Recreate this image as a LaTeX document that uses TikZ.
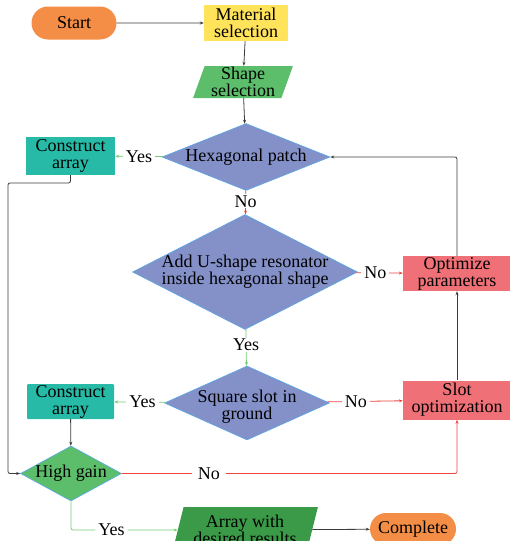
\documentclass[tikz,border=0pt]{standalone}
\usepackage{fontspec}
\setmainfont{Liberation Serif}
\usetikzlibrary{shapes.geometric,shapes.misc,arrows.meta}

\definecolor{termorange}{HTML}{F48D45}
\definecolor{matyellow}{HTML}{FFE35A}
\definecolor{iogreen}{HTML}{5CBE6B}
\definecolor{iodark}{HTML}{3A9A48}
\definecolor{decblue}{HTML}{8490C8}
\definecolor{decedge}{HTML}{5AA9E6}
\definecolor{arrteal}{HTML}{27BBA7}
\definecolor{optred}{HTML}{EF7077}
\definecolor{linegray}{HTML}{3C3C3C}
\definecolor{yesgreen}{HTML}{74CC74}
\definecolor{nored}{HTML}{F0443C}

\tikzset{
  every node/.style={font=\fontsize{18}{17}\selectfont, align=center, inner sep=0pt},
  term/.style={rounded rectangle, fill=termorange, minimum width=85pt, minimum height=33pt},
  proc/.style={rectangle, minimum width=88pt, minimum height=36pt},
  io/.style={trapezium, trapezium left angle=72, trapezium right angle=108,
    trapezium stretches=true, fill=iogreen},
  dec/.style={diamond, fill=decblue, draw=decedge, line width=0.6pt},
  tag/.style={fill=white, inner xsep=3pt, inner ysep=1pt},
  line/.style={draw=linegray, line width=0.8pt, -{Stealth[length=4pt,width=3pt]}},
  yesline/.style={line, draw=yesgreen},
  noline/.style={line, draw=nored}
}

\begin{document}
\begin{tikzpicture}[x=1pt,y=-1pt]
  \useasboundingbox (0,0) rectangle (510,541);

  \node[term] (start) at (74,23) {Start};
  \node[proc, fill=matyellow, minimum width=84pt] (mat) at (246,23) {Material\\selection};
  \node[io, minimum width=100pt, minimum height=32pt] (shape) at (243,82) {Shape\\selection};

  \node[dec, minimum width=168pt, minimum height=67pt] (hex) at (246,157) {};
  \node (hextext) at (hex) {Hexagonal patch};
  \node[proc, fill=arrteal, minimum width=89pt, minimum height=38pt] (ca1) at (70.5,156) {Construct\\array};

  \node[dec, minimum width=225pt, minimum height=115pt] (ures) at (245,272) {};
  \node (urestext) at (ures) {Add U-shape resonator\\inside hexagonal shape};
  \node[proc, fill=optred, minimum width=108pt, minimum height=35pt] (opt) at (457,273.5) {Optimize\\parameters};

  \node[dec, minimum width=165pt, minimum height=74pt] (sq) at (247,403) {};
  \node (sqtext) at (247,407) {Square slot in\\ground};
  \node[proc, fill=arrteal, minimum width=87pt, minimum height=35pt, rounded corners=1pt] (ca2) at (70.5,401.5) {Construct\\array};
  \node[proc, fill=optred, minimum width=108pt, minimum height=39pt] (slot) at (457,400) {Slot\\optimization};

  \node[dec, fill=iogreen, minimum width=101pt, minimum height=55pt] (hg) at (71,473.5) {};
  \node (hgtext) at (hg) {High gain};
  \node[io, fill=iodark, minimum width=146pt, minimum height=46pt] (arr) at (245,530) {Array with\\desired results};
  \node[term, minimum width=86pt, minimum height=32pt] (comp) at (413,529) {Complete};

  \coordinate (bend) at (8,183);

  \draw[line] (start) -- (mat);
  \draw[line] (mat) -- (shape);
  \draw[line] (shape) -- (hex);
  \draw[yesline] (hex) -- node[tag] (y1) {Yes} (ca1);
  \draw[noline] (hex) -- node[tag, pos=0.45] (n1) {No} (ures);
  \draw[noline] (ures) -- node[tag, pos=0.41] (n2) {No} (opt);
  \draw[yesline] (ures) -- node[tag, pos=0.42] (y2) {Yes} (sq);
  \draw[yesline] (sq) -- node[tag, pos=0.45] (y3) {Yes} (ca2);
  \draw[noline] (sq) -- node[tag, pos=0.38] (n3) {No} (slot);
  \draw[line] (slot) -- (opt);
  \draw[line, rounded corners=2pt] (opt) |- (hex);
  \draw[line, rounded corners=2pt] (ca1.south) |- (bend) |- (hg.west);
  \draw[line] (ca2) -- (hg);
  \draw[noline, rounded corners=2pt] (hg) -| node[tag, pos=0.13, inner xsep=6pt] (n4) {No} (slot);
  \draw[yesline, rounded corners=2pt] (hg) |- node[tag, pos=0.69] (y4) {Yes} (arr);
  \draw[line] (arr) -- (comp);
\end{tikzpicture}
\end{document}
